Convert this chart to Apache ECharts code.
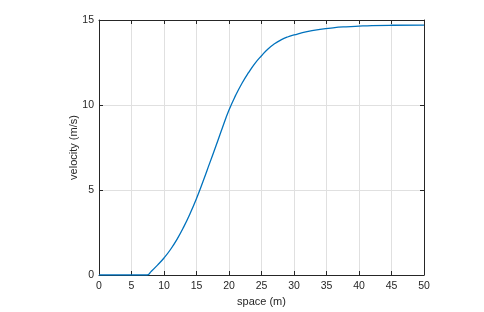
<!DOCTYPE html>
<html>
<head>
<meta charset="utf-8">
<script src="https://cdn.jsdelivr.net/npm/echarts@6/dist/echarts.min.js"></script>
<style>html,body{margin:0;padding:0;background:#fff;}#c{width:484px;height:312px;}</style>
</head>
<body>
<div id="c"></div>
<script>
var spaceM = [0, 5, 7.4, 8, 9, 10, 11, 12, 13, 14, 15, 16, 17, 18, 19, 20, 21, 22, 23, 24, 25, 26, 27, 28, 29, 30, 32, 34, 36, 38, 40, 42, 45, 50];
var velocity = [0, 0, 0, 0.2, 0.58, 1.0, 1.5, 2.1, 2.8, 3.6, 4.5, 5.5, 6.55, 7.6, 8.68, 9.7, 10.55, 11.28, 11.9, 12.45, 12.9, 13.3, 13.6, 13.83, 14.0, 14.12, 14.32, 14.45, 14.54, 14.6, 14.64, 14.67, 14.69, 14.7];
var xTicks = [0, 5, 10, 15, 20, 25, 30, 35, 40, 45, 50];
var yTicks = [0, 5, 10, 15];
var xName = 'space (m)';
var yName = 'velocity (m/s)';

var pts = spaceM.map(function (x, i) { return [x, velocity[i]]; });
var txt = '#262626';
var font = 'Liberation Sans, Arial, Helvetica, sans-serif';
var axisLine = { show: true, onZero: false, lineStyle: { color: '#262626', width: 1 } };
var tick = { show: true, inside: true, length: 4, lineStyle: { color: '#262626', width: 1 } };

var chart = echarts.init(document.getElementById('c'), null, { renderer: 'canvas' });
chart.setOption({
  animation: false,
  backgroundColor: '#ffffff',
  grid: { left: 99, right: 60, top: 20, bottom: 35, containLabel: false },
  xAxis: [{
    type: 'value', min: xTicks[0], max: xTicks[xTicks.length - 1], interval: 5,
    name: xName, nameLocation: 'middle', nameGap: 21, nameMoveOverlap: false,
    nameTextStyle: { color: txt, fontSize: 11, fontFamily: font },
    axisLine: axisLine, axisTick: tick,
    axisLabel: { color: txt, fontSize: 10.5, fontFamily: font, margin: 6 },
    splitLine: { show: true, lineStyle: { color: '#e0e0e0', width: 1 } }
  }, {
    type: 'value', position: 'top', min: xTicks[0], max: xTicks[xTicks.length - 1], interval: 5,
    axisLine: axisLine, axisTick: tick, axisLabel: { show: false }, splitLine: { show: false }
  }],
  yAxis: [{
    type: 'value', min: yTicks[0], max: yTicks[yTicks.length - 1], interval: 5,
    name: yName, nameLocation: 'middle', nameGap: 20, nameMoveOverlap: false,
    nameTextStyle: { color: txt, fontSize: 11, fontFamily: font },
    axisLine: axisLine, axisTick: tick,
    axisLabel: { color: txt, fontSize: 10.5, fontFamily: font, margin: 5 },
    splitLine: { show: true, lineStyle: { color: '#e0e0e0', width: 1 } }
  }, {
    type: 'value', position: 'right', min: yTicks[0], max: yTicks[yTicks.length - 1], interval: 5,
    axisLine: axisLine, axisTick: tick, axisLabel: { show: false }, splitLine: { show: false }
  }],
  series: [{
    type: 'line', data: pts, xAxisIndex: 0, yAxisIndex: 0,
    showSymbol: false, smooth: 0.5,
    lineStyle: { color: '#0072BD', width: 1.3 },
    clip: true
  }]
});
</script>
</body>
</html>
